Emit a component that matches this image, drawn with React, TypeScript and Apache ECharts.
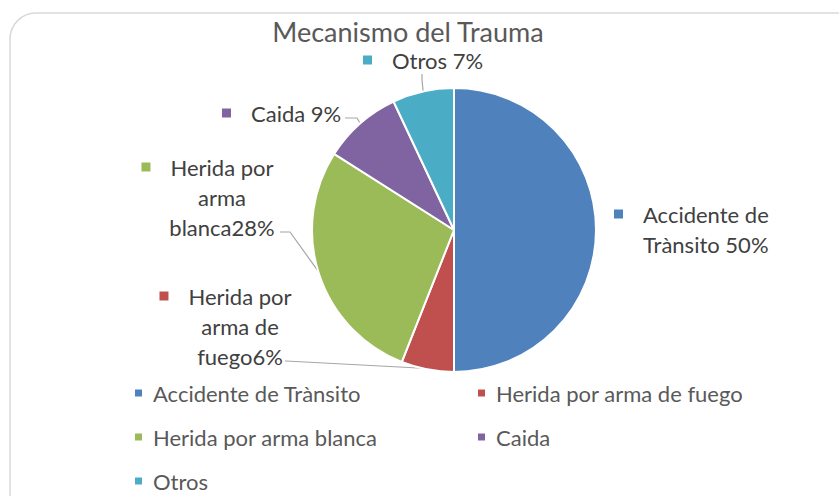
import React, { useEffect, useRef } from "react";
import * as echarts from "echarts";

const categories = [
  "Accidente de Trànsito",
  "Herida por arma de fuego",
  "Herida por arma blanca",
  "Caida",
  "Otros",
];
const values = [50, 6, 28, 9, 7];
const colors = ["#4F81BD", "#C0504D", "#9BBB59", "#8064A2", "#4BACC6"];
// label text lines as shown in the chart (wrapped)
const labelLines = [
  ["Accidente de", "Trànsito 50%"],
  ["Herida por", "arma de", "fuego6%"],
  ["Herida por", "arma", "blanca28%"],
  ["Caida 9%"],
  ["Otros 7%"],
];
const titleText = "Mecanismo del Trauma";

// layout constants
const CX = 454;
const CY = 230;
const R = 142;
const labelPos = [
  { x: 614, y: 229, align: "left" },
  { x: 240, y: 326, align: "center" },
  { x: 222, y: 197, align: "center" },
  { x: 222, y: 113, align: "left" },
  { x: 363, y: 60, align: "left" },
];
// where each guide line leaves its label (null = no line)
const lineStart: (number[][] | null)[] = [
  null,
  [[285, 361], [286, 361]],
  [[280, 232], [290, 232]],
  [[345, 118], [357, 118]],
  [[422, 74], [422, 80]],
];

export default function App() {
  const ref = useRef<HTMLDivElement>(null);
  useEffect(() => {
    if (!ref.current) return;
    const chart = echarts.init(ref.current, null, { renderer: "svg" });
    const FONT = "Lato";
    const total = values.reduce((a, b) => a + b, 0);
    const edgePoints = values.map((v, i) => {
      const before = values.slice(0, i).reduce((a, b) => a + b, 0);
      const ang = ((before + v / 2) / total) * 2 * Math.PI;
      return [CX + (R - 1) * Math.sin(ang), CY - (R - 1) * Math.cos(ang)];
    });
    const rich: any = {
      t: { fontFamily: FONT, fontSize: 22, color: "#404040", lineHeight: 30 },
      gap: { width: 20, align: "left" },
      pad: { width: 29, align: "left" },
      sp: { width: 29, align: "right" },
    };
    colors.forEach((c, i) => {
      rich["sq" + i] = { width: 9, height: 9, backgroundColor: c, align: "left", lineHeight: 30 };
    });
    const data = categories.map((name, i) => ({
      name,
      value: values[i],
      labelLine: { show: lineStart[i] != null },
    }));
    const legendCommon = {
      orient: "vertical",
      top: 381,
      height: 140,
      padding: 0,
      itemWidth: 9,
      itemHeight: 9,
      itemGap: 20,
      icon: "rect",
      textStyle: { fontFamily: FONT, fontSize: 22, color: "#595959", lineHeight: 24, padding: [0, 0, 0, 5] },
    };
    chart.setOption({
      animation: false,
      color: colors,
      title: {
        text: titleText,
        left: 408,
        textAlign: "center",
        top: 18,
        padding: 0,
        textStyle: { fontFamily: FONT, fontSize: 27, fontWeight: "normal", color: "#595959" },
      },
      graphic: [
        {
          type: "rect",
          shape: { x: 10, y: 13, width: 860, height: 520, r: 26 },
          style: { fill: "none", stroke: "#D9D9D9", lineWidth: 1.5 },
          silent: true,
          z: -1,
        },
      ],
      legend: [
        { ...legendCommon, left: 133, data: [categories[0], categories[2], categories[4]] },
        { ...legendCommon, left: 476, data: [categories[1], categories[3]] },
      ],
      series: [
        {
          type: "pie",
          center: [CX, CY],
          radius: R,
          startAngle: 90,
          clockwise: true,
          data,
          itemStyle: { borderColor: "#fff", borderWidth: 2 },
          emphasis: { disabled: true },
          label: {
            show: true,
            position: "outside",
            rich,
            formatter: (p: any) => {
              const i = p.dataIndex;
              const lines = labelLines[i];
              const align = labelPos[i].align;
              return lines
                .map((l, k) => {
                  if (k === 0) {
                    return `{sq${i}|}{gap|}{t|${l}}` + (align === "center" ? "{sp|}" : "");
                  }
                  return align === "left" ? `{pad|}{t|${l}}` : `{t|${l}}`;
                })
                .join("\n");
            },
          },
          labelLine: { show: true, lineStyle: { color: "#A6A6A6", width: 1.2 }, length: 10, length2: 10 },
          labelLayout: (p: any) => {
            const i = p.dataIndex;
            const lp = labelPos[i];
            const out: any = { x: lp.x, y: lp.y, align: lp.align, verticalAlign: "middle" };
            if (lineStart[i]) {
              out.labelLinePoints = [...(lineStart[i] as number[][]), edgePoints[i]];
            }
            return out;
          },
        },
      ],
    });
    return () => chart.dispose();
  }, []);
  return (
    <div
      ref={ref}
      style={{ position: "fixed", left: 0, top: 0, width: 839, height: 496, background: "#fff" }}
    />
  );
}
